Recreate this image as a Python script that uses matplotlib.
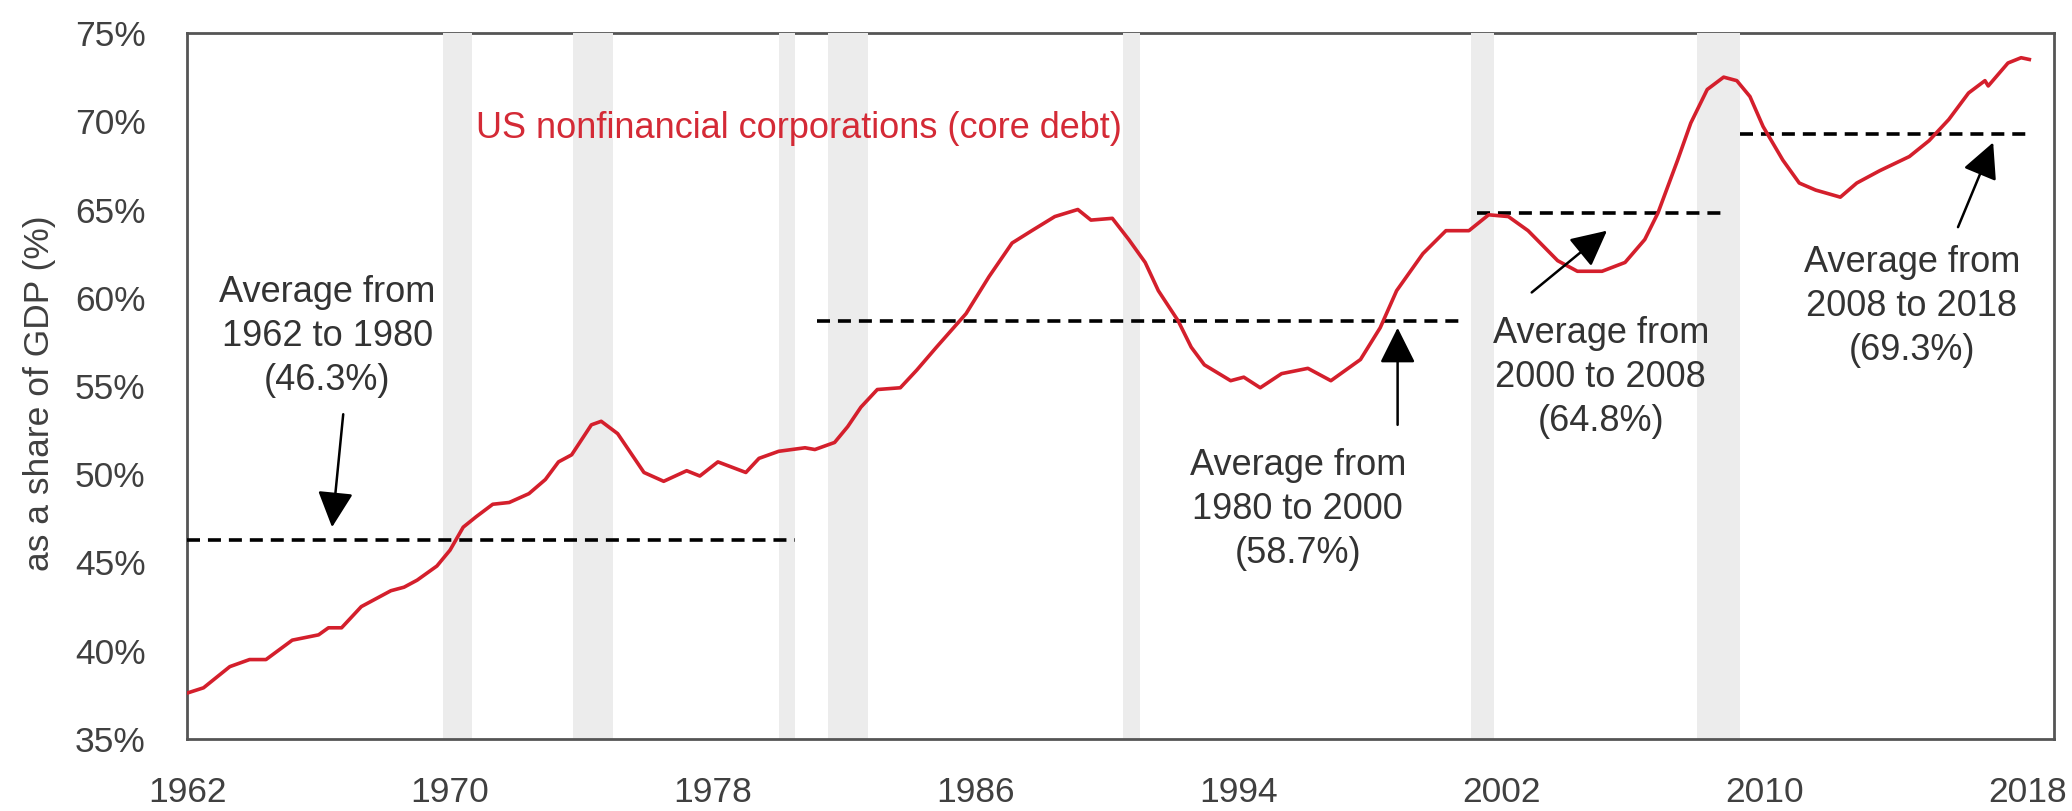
import numpy as np
import matplotlib.pyplot as plt
import pandas as pd

plt.rcParams['font.family'] = ['Liberation Sans', 'DejaVu Sans']

# Debt of US nonfinancial corporations, % of GDP
years = [1962.0, 1962.5, 1963.3, 1963.9, 1964.4, 1965.2, 1966.0, 1966.3, 1966.7, 1967.3,
         1968.2, 1968.6, 1969.0, 1969.6, 1970.0, 1970.4, 1970.8, 1971.3, 1971.8, 1972.4,
         1972.9, 1973.3, 1973.7, 1974.3, 1974.6, 1975.1, 1975.5, 1975.9, 1976.5, 1977.2,
         1977.6, 1978.15, 1979.0, 1979.4, 1980.0, 1980.8, 1981.1, 1981.7, 1982.1, 1982.5,
         1983.0, 1983.7, 1984.2, 1984.8, 1985.7, 1986.4, 1987.1, 1987.7, 1988.4, 1989.1,
         1989.5, 1990.15, 1990.65, 1991.15, 1991.55, 1992.15, 1992.55, 1992.95, 1993.75, 1994.15,
         1994.65, 1995.3, 1996.1, 1996.8, 1997.7, 1998.3, 1998.8, 1999.6, 2000.3, 2001.0,
         2001.6, 2002.2, 2002.8, 2003.7, 2004.3, 2005.05, 2005.75, 2006.35, 2006.75, 2007.35,
         2007.75, 2008.25, 2008.75, 2009.15, 2009.55, 2009.95, 2010.55, 2011.05, 2011.55, 2012.3,
         2012.8, 2013.5, 2014.4, 2015.0, 2015.6, 2016.2, 2016.7, 2016.8, 2017.4, 2017.8,
         2018.05]
debt = [37.6, 37.9, 39.1, 39.5, 39.5, 40.6, 40.9, 41.3, 41.3, 42.5,
        43.4, 43.6, 44.0, 44.8, 45.7, 47.0, 47.6, 48.3, 48.4, 48.9,
        49.7, 50.7, 51.1, 52.8, 53.0, 52.3, 51.2, 50.1, 49.6, 50.2,
        49.9, 50.7, 50.1, 50.9, 51.3, 51.5, 51.4, 51.8, 52.7, 53.8,
        54.8, 54.9, 55.9, 57.2, 59.1, 61.2, 63.1, 63.8, 64.6, 65.0,
        64.4, 64.5, 63.3, 62.0, 60.4, 58.7, 57.2, 56.2, 55.3, 55.5,
        54.9, 55.7, 56.0, 55.3, 56.5, 58.3, 60.4, 62.5, 63.8, 63.8,
        64.7, 64.6, 63.8, 62.1, 61.5, 61.5, 62.0, 63.3, 64.8, 67.8,
        69.9, 71.8, 72.5, 72.3, 71.4, 69.7, 67.8, 66.5, 66.1, 65.7,
        66.5, 67.2, 68.0, 68.9, 70.1, 71.6, 72.3, 72.0, 73.3, 73.6,
        73.5]

# Recessions (shaded)
rec_start = [1969.79, 1973.75, 1980.02, 1981.51, 1990.49, 2001.06, 2007.94]
rec_end = [1970.68, 1974.97, 1980.51, 1982.73, 1990.98, 2001.76, 2009.24]

# Period averages
avg_start = [1962.0, 1981.18, 2001.24, 2009.24]
avg_end = [1980.51, 2000.78, 2008.82, 2018.04]
avg_value = [46.3, 58.7, 64.8, 69.3]
avg_text = ['Average from\n1962 to 1980\n(46.3%)',
            'Average from\n1980 to 2000\n(58.7%)',
            'Average from\n2000 to 2008\n(64.8%)',
            'Average from\n2008 to 2018\n(69.3%)']
text_pos = [(1966.26, 57.8), (1995.79, 48.0), (2005.01, 55.5), (2014.48, 59.5)]
arrow_from = [(1966.75, 53.4), (1998.83, 52.8), (2002.91, 60.3), (2015.88, 64.0)]
arrow_to = [(1966.41, 47.0), (1998.83, 58.3), (2005.2, 63.8), (2016.95, 68.8)]

xticks = [1962, 1970, 1978, 1986, 1994, 2002, 2010, 2018]
yticks = [35, 40, 45, 50, 55, 60, 65, 70, 75]

fig = plt.figure(figsize=(20.72, 8.11), dpi=100)
ax = fig.add_axes([0.0903, 0.0888, 0.9010, 0.8705])

for s, e in zip(rec_start, rec_end):
    ax.axvspan(s, e, color='#ececec', lw=0, zorder=3)

ax.plot(years, debt, color='#d41f2c', lw=2.6, zorder=6)

for s, e, v in zip(avg_start, avg_end, avg_value):
    ax.plot([s, e], [v, v], color='black', lw=2.6, dashes=(3.6, 2.2), zorder=5)

for t, p, a, b in zip(avg_text, text_pos, arrow_from, arrow_to):
    ax.text(p[0], p[1], t, ha='center', va='center', fontsize=26, color='#333333',
            linespacing=1.33, zorder=7)
    ax.annotate('', xy=b, xytext=a,
                arrowprops=dict(arrowstyle='-|>,head_length=1.1,head_width=0.55',
                                mutation_scale=20, color='black', lw=1.8,
                                shrinkA=0, shrinkB=0), zorder=7)

ax.text(1980.63, 69.6, 'US nonfinancial corporations (core debt)', ha='center', va='center',
        fontsize=26, color='#d42a36', zorder=7)

ax.set_xlim(1962, 2018.8)
ax.set_ylim(35, 75)
ax.set_xticks(xticks)
ax.set_yticks(yticks)
ax.set_yticklabels([f'{v}%' for v in yticks])
ax.tick_params(axis='both', length=0, labelsize=25.5, labelcolor='#404040')
ax.tick_params(axis='x', pad=27)
ax.tick_params(axis='y', pad=30)
ax.set_ylabel('as a share of GDP (%)', fontsize=25.5, color='#404040')
ax.yaxis.set_label_coords(-0.070, 0.49)

for side in ['left', 'right', 'top', 'bottom']:
    ax.spines[side].set_color('#555555')
    ax.spines[side].set_linewidth(2.0)
ax.spines['top'].set_zorder(1)
ax.spines['bottom'].set_zorder(4)
ax.spines['left'].set_zorder(4)
ax.spines['right'].set_zorder(4)

fig.savefig('out.png', dpi=100)
